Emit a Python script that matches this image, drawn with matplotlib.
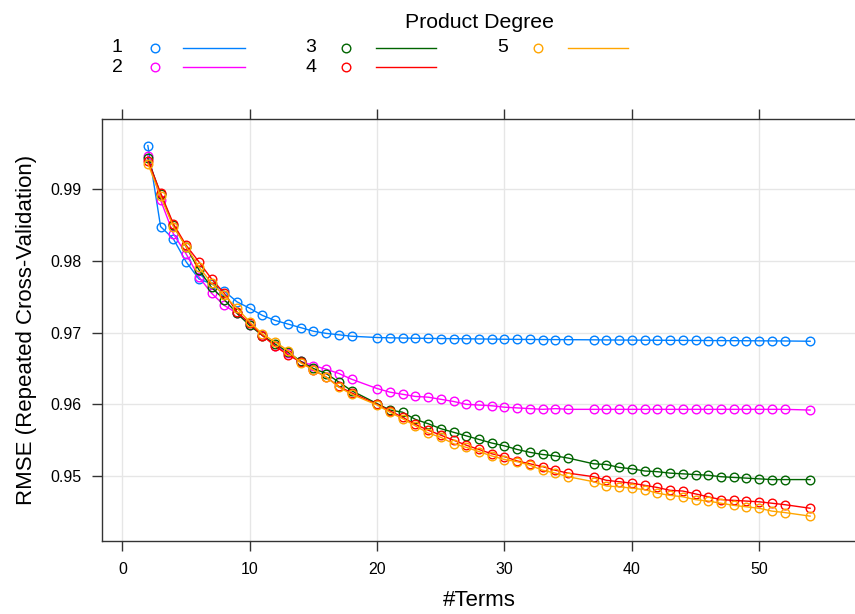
import matplotlib
matplotlib.use("Agg")
import matplotlib.pyplot as plt
from matplotlib.lines import Line2D

plt.rcParams['font.family'] = ['Liberation Sans', 'DejaVu Sans']

terms = list(range(2, 19)) + list(range(20, 36)) + list(range(37, 53)) + [54]

deg1 = [0.9961, 0.9848, 0.9831, 0.9799, 0.9775, 0.9768, 0.9758, 0.9743, 0.9734, 0.9724,
        0.9717, 0.9712, 0.9707, 0.9702, 0.9699, 0.9697, 0.9695,
        0.96932, 0.96928, 0.96925, 0.96922, 0.9692, 0.96918, 0.96916, 0.96914, 0.96912,
        0.9691, 0.96908, 0.96906, 0.96905, 0.96904, 0.96903, 0.96902,
        0.96900, 0.96898, 0.96897, 0.96896, 0.96895, 0.96894, 0.96893, 0.96892, 0.96891,
        0.9689, 0.96889, 0.96888, 0.96887, 0.96886, 0.96885, 0.96884,
        0.9688]
deg2 = [0.9947, 0.9885, 0.9838, 0.9810, 0.9778, 0.9755, 0.9738, 0.9727, 0.9711, 0.9697,
        0.9682, 0.9671, 0.9660, 0.9654, 0.9649, 0.9643, 0.9635,
        0.9622, 0.9617, 0.9614, 0.9611, 0.9610, 0.9607, 0.9604, 0.9600, 0.9599,
        0.9598, 0.9596, 0.9595, 0.9594, 0.9593, 0.9594, 0.9593,
        0.9593, 0.9593, 0.9593, 0.9593, 0.9593, 0.9593, 0.9593, 0.9593, 0.9593,
        0.9593, 0.9593, 0.9593, 0.9593, 0.9593, 0.9593, 0.9593,
        0.9592]
deg3 = [0.9943, 0.9893, 0.9850, 0.9820, 0.9788, 0.9763, 0.9746, 0.9727, 0.9710, 0.9696,
        0.9684, 0.9673, 0.9660, 0.9650, 0.9643, 0.9631, 0.9619,
        0.9601, 0.9592, 0.9589, 0.9579, 0.9573, 0.9566, 0.9561, 0.9556, 0.9551,
        0.9546, 0.9542, 0.9537, 0.9533, 0.9530, 0.9528, 0.9525,
        0.9517, 0.9516, 0.9512, 0.9510, 0.9507, 0.9506, 0.9504, 0.9503, 0.9502,
        0.9501, 0.9499, 0.9498, 0.9497, 0.9496, 0.9495, 0.9495,
        0.9495]
deg4 = [0.9940, 0.9895, 0.9852, 0.9822, 0.9799, 0.9775, 0.9755, 0.9729, 0.9713, 0.9696,
        0.9681, 0.9669, 0.9659, 0.9648, 0.9638, 0.9625, 0.9616,
        0.9600, 0.9591, 0.9582, 0.9572, 0.9564, 0.9557, 0.9550, 0.9543, 0.9537,
        0.9531, 0.9527, 0.9521, 0.9517, 0.9513, 0.9508, 0.9504,
        0.9499, 0.9494, 0.9492, 0.9490, 0.9487, 0.9484, 0.9480, 0.9479, 0.9475,
        0.9471, 0.9467, 0.9466, 0.9465, 0.9464, 0.9462, 0.9460,
        0.9455]
deg5 = [0.9936, 0.9890, 0.9848, 0.9820, 0.9792, 0.9769, 0.9752, 0.9734, 0.9715, 0.9698,
        0.9687, 0.9675, 0.9658, 0.9648, 0.9638, 0.9624, 0.9614,
        0.9599, 0.9589, 0.9580, 0.9570, 0.9560, 0.9554, 0.9545, 0.9540, 0.9534,
        0.9528, 0.9523, 0.9520, 0.9515, 0.9508, 0.9504, 0.9499,
        0.9492, 0.9486, 0.9485, 0.9483, 0.9481, 0.9476, 0.9473, 0.9471, 0.9467,
        0.9465, 0.9462, 0.9459, 0.9457, 0.9455, 0.9451, 0.9449,
        0.9444]

degrees = ['1', '2', '3', '4', '5']
series = [deg1, deg2, deg3, deg4, deg5]
colors = ['#0080ff', '#ff00ff', '#006400', '#ff0000', '#ffa500']

xticks = [0, 10, 20, 30, 40, 50]
yticks = [0.95, 0.96, 0.97, 0.98, 0.99]

W, H = 855, 614
fig = plt.figure(figsize=(W / 100, H / 100), dpi=100)
ax = fig.add_axes([102 / W, (H - 541) / H, (856 - 102) / W, (541 - 119) / H])

for vals, c in zip(series, colors):
    ax.plot(terms, vals, color=c, lw=1.0, marker='o', ms=6.2, mfc='none',
            mec=c, mew=1.0, zorder=3)

ax.set_xlim(-1.6, 57.6)
ax.set_ylim(0.94093, 0.99981)
ax.set_xticks(xticks)
ax.set_yticks(yticks)
ax.set_yticklabels([f"{v:.2f}" for v in yticks])
ax.grid(True, color='#e6e6e6', lw=1.0, zorder=0)
ax.set_axisbelow(True)

for s in ['left', 'bottom', 'top']:
    ax.spines[s].set_color('#333333')
    ax.spines[s].set_linewidth(1.0)
ax.spines['right'].set_visible(False)

ax.tick_params(axis='both', direction='out', length=7, width=1.0,
               colors='#333333', labelcolor='black', labelsize=11.5, pad=8)
ax.tick_params(axis='x', top=True, labeltop=False)
ax.tick_params(axis='y', right=False)

ax.set_xlabel('#Terms', fontsize=16, labelpad=9.5)
ax.set_ylabel('RMSE (Repeated Cross-Validation)', fontsize=16, labelpad=9)

# Legend (drawn manually in pixel coordinates)
def px(x, y):
    return x / W, 1 - y / H

fig.text(*px(479, 22), 'Product Degree', ha='center', va='center', fontsize=15.3)
cols = [(117, 155, 183, 245), (311, 346, 376, 436), (503, 538, 568, 628)]
rows = [48, 67]
for i, (lab, c) in enumerate(zip(degrees, colors)):
    col = cols[i // 2]
    ry = rows[i % 2]
    fig.text(*px(col[0], ry), lab, ha='center', va='center', fontsize=14)
    mx, my = px(col[1], ry)
    fig.add_artist(Line2D([mx], [my], marker='o', ms=6.2, mfc='none', mec=c,
                          mew=1.0, transform=fig.transFigure))
    x0, yy = px(col[2], ry)
    x1, _ = px(col[3], ry)
    fig.add_artist(Line2D([x0, x1], [yy, yy], color=c, lw=1.0,
                          transform=fig.transFigure))

fig.savefig('out.png', dpi=100)
